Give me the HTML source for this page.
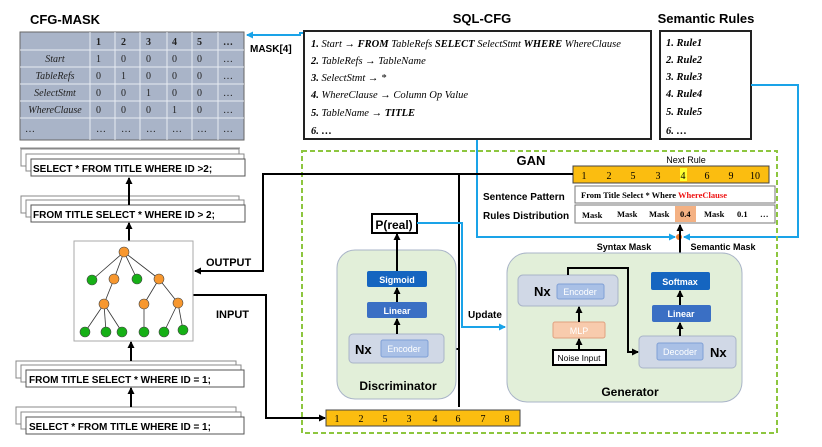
<!DOCTYPE html>
<html><head><meta charset="utf-8"><style>
body{margin:0;background:#fff}
</style></head><body>
<svg width="822" height="442" viewBox="0 0 822 442" xmlns="http://www.w3.org/2000/svg" font-family="Liberation Sans, sans-serif">
<defs>
<marker id="a" markerUnits="userSpaceOnUse" markerWidth="7" markerHeight="7" refX="6" refY="3.5" orient="auto"><path d="M0,0 L7,3.5 L0,7 z" fill="#000"/></marker>
<marker id="b" markerUnits="userSpaceOnUse" markerWidth="7" markerHeight="7" refX="6" refY="3.5" orient="auto"><path d="M0,0 L7,3.5 L0,7 z" fill="#1aa3e8"/></marker>
</defs>
<!-- CFG-MASK -->
<text x="65" y="24" font-size="13" font-weight="bold" text-anchor="middle">CFG-MASK</text>
<rect x="20" y="32" width="224" height="108" fill="#a9b4c8" stroke="#666"/>
<g stroke="#e8ecf2" stroke-width="1">
<line x1="20" y1="50" x2="244" y2="50"/><line x1="20" y1="67" x2="244" y2="67"/><line x1="20" y1="84" x2="244" y2="84"/><line x1="20" y1="101" x2="244" y2="101"/><line x1="20" y1="118" x2="244" y2="118"/>
<line x1="90" y1="32" x2="90" y2="140"/><line x1="115" y1="32" x2="115" y2="140"/><line x1="140" y1="32" x2="140" y2="140"/><line x1="167" y1="32" x2="167" y2="140"/><line x1="192" y1="32" x2="192" y2="140"/><line x1="218" y1="32" x2="218" y2="140"/>
</g>
<g font-size="10" font-family="Liberation Serif, serif" fill="#222">
<g font-weight="bold"><text x="96" y="45">1</text><text x="121" y="45">2</text><text x="146" y="45">3</text><text x="172" y="45">4</text><text x="197" y="45">5</text><text x="223" y="45">…</text></g>
<g font-style="italic" text-anchor="middle"><text x="55" y="62">Start</text><text x="55" y="79">TableRefs</text><text x="55" y="96">SelectStmt</text><text x="55" y="113">WhereClause</text></g>
<text x="25" y="132">…</text>
<text x="96" y="62">1</text><text x="121" y="62">0</text><text x="146" y="62">0</text><text x="172" y="62">0</text><text x="197" y="62">0</text><text x="223" y="62">…</text>
<text x="96" y="79">0</text><text x="121" y="79">1</text><text x="146" y="79">0</text><text x="172" y="79">0</text><text x="197" y="79">0</text><text x="223" y="79">…</text>
<text x="96" y="96">0</text><text x="121" y="96">0</text><text x="146" y="96">1</text><text x="172" y="96">0</text><text x="197" y="96">0</text><text x="223" y="96">…</text>
<text x="96" y="113">0</text><text x="121" y="113">0</text><text x="146" y="113">0</text><text x="172" y="113">1</text><text x="197" y="113">0</text><text x="223" y="113">…</text>
<text x="96" y="132">…</text><text x="121" y="132">…</text><text x="146" y="132">…</text><text x="172" y="132">…</text><text x="197" y="132">…</text><text x="223" y="132">…</text>
</g>
<line x1="20" y1="148" x2="240" y2="148" stroke="#888"/>
<polyline points="303,33 300,33 300,35 247,35" fill="none" stroke="#1aa3e8" stroke-width="2" marker-end="url(#b)"/>
<text x="250" y="52" font-size="10" font-weight="bold">MASK[4]</text>
<!-- SQL-CFG -->
<text x="482" y="23" font-size="13" font-weight="bold" text-anchor="middle">SQL-CFG</text>
<rect x="304" y="31" width="347" height="108" fill="#fff" stroke="#222" stroke-width="2"/>
<g font-family="Liberation Serif, serif" font-style="italic" font-size="10.5">
<text x="311" y="47"><tspan font-weight="bold">1.</tspan>  Start → <tspan font-weight="bold">FROM</tspan> TableRefs <tspan font-weight="bold">SELECT</tspan>  SelectStmt <tspan font-weight="bold">WHERE</tspan> WhereClause</text>
<text x="311" y="64"><tspan font-weight="bold">2.</tspan>  TableRefs → TableName</text>
<text x="311" y="81"><tspan font-weight="bold">3.</tspan>  SelectStmt → *</text>
<text x="311" y="98"><tspan font-weight="bold">4.</tspan>  WhereClause → Column Op Value</text>
<text x="311" y="116"><tspan font-weight="bold">5.</tspan>  TableName → <tspan font-weight="bold">TITLE</tspan></text>
<text x="311" y="134"><tspan font-weight="bold">6.  …</tspan></text>
</g>
<!-- Semantic Rules -->
<text x="706" y="23" font-size="13" font-weight="bold" text-anchor="middle">Semantic Rules</text>
<rect x="660" y="31" width="91" height="108" fill="#fff" stroke="#222" stroke-width="2"/>
<g font-family="Liberation Serif, serif" font-style="italic" font-weight="bold" font-size="10.5">
<text x="666" y="46">1.  Rule1</text><text x="666" y="63">2.  Rule2</text><text x="666" y="80">3.  Rule3</text><text x="666" y="97">4.  Rule4</text><text x="666" y="115">5.  Rule5</text><text x="666" y="134">6.  …</text>
</g>
<!-- blue lines -->
<polyline points="477,140 477,237 675,237" fill="none" stroke="#1aa3e8" stroke-width="2" marker-end="url(#b)"/>
<polyline points="751,85 798,85 798,237 684,237" fill="none" stroke="#1aa3e8" stroke-width="2" marker-end="url(#b)"/>
<!-- GAN box -->
<rect x="302" y="151" width="475" height="282" fill="none" stroke="#8dc63f" stroke-width="2" stroke-dasharray="5,3"/>
<text x="531" y="165" font-size="13" font-weight="bold" text-anchor="middle">GAN</text>
<text x="686" y="163" font-size="9" text-anchor="middle">Next Rule</text>
<rect x="573" y="166" width="196" height="17" fill="#fbbd10" stroke="#444"/>
<rect x="680" y="168" width="7" height="13" fill="#ffff30"/>
<g font-family="Liberation Serif, serif" font-size="10" text-anchor="middle">
<text x="584" y="179">1</text><text x="609" y="179">2</text><text x="633" y="179">5</text><text x="658" y="179">3</text><text x="683" y="179">4</text><text x="707" y="179">6</text><text x="731" y="179">9</text><text x="755" y="179">10</text>
</g>
<text x="483" y="200" font-size="10" font-weight="bold">Sentence Pattern</text>
<text x="483" y="219" font-size="10" font-weight="bold">Rules Distribution</text>
<rect x="575" y="186" width="200" height="17" fill="#fff" stroke="#777"/>
<rect x="575" y="205" width="200" height="18" fill="#fff" stroke="#777"/>
<rect x="675" y="206" width="21" height="16" fill="#f4b183"/>
<g font-family="Liberation Serif, serif" font-size="8.5" font-weight="bold">
<text x="581" y="198">From   Title   Select   *   Where   <tspan fill="#ee1111">WhereClause</tspan></text>
<text x="582" y="218">Mask</text><text x="617" y="217">Mask</text><text x="649" y="217">Mask</text><text x="680" y="217">0.4</text><text x="704" y="217">Mask</text><text x="737" y="217">0.1</text><text x="760" y="217">…</text>
</g>
<circle cx="679" cy="237" r="3" fill="#ed7d31"/>
<line x1="680" y1="272" x2="680" y2="225" stroke="#000" stroke-width="2" marker-end="url(#a)"/>
<text x="624" y="250" font-size="9" font-weight="bold" text-anchor="middle">Syntax Mask</text>
<text x="723" y="250" font-size="9" font-weight="bold" text-anchor="middle">Semantic Mask</text>
<!-- black lines -->
<polyline points="573,174 263,174 263,271 195,271" fill="none" stroke="#000" stroke-width="2" marker-end="url(#a)"/>
<line x1="459" y1="174" x2="459" y2="407" stroke="#000" stroke-width="2"/>
<line x1="459" y1="349" x2="445" y2="349" stroke="#000" stroke-width="2" marker-end="url(#a)"/>
<text x="206" y="266" font-size="11" font-weight="bold">OUTPUT</text>
<text x="216" y="318" font-size="11" font-weight="bold">INPUT</text>
<polyline points="193,295 266,295 266,418 325,418" fill="none" stroke="#000" stroke-width="2" marker-end="url(#a)"/>
<!-- bottom bar -->
<rect x="326" y="410" width="194" height="16" fill="#fbbd10" stroke="#444"/>
<g font-family="Liberation Serif, serif" font-size="10" text-anchor="middle">
<text x="337" y="422">1</text><text x="361" y="422">2</text><text x="385" y="422">5</text><text x="409" y="422">3</text><text x="435" y="422">4</text><text x="458" y="422">6</text><text x="483" y="422">7</text><text x="507" y="422">8</text>
</g>
<!-- Discriminator -->
<rect x="337" y="250" width="119" height="149" rx="18" fill="#e2efd9" stroke="#a9b4c8"/>
<rect x="372" y="214" width="45" height="19" fill="#fff" stroke="#000" stroke-width="2"/>
<text x="394" y="229" font-size="12" font-weight="bold" text-anchor="middle">P(real)</text>
<polyline points="417,223 462,223 462,327 505,327" fill="none" stroke="#1aa3e8" stroke-width="2" marker-end="url(#b)"/>
<text x="468" y="318" font-size="10" font-weight="bold">Update</text>
<rect x="367" y="271" width="60" height="16" rx="2" fill="#1565c0"/>
<text x="397" y="283" font-size="9" font-weight="bold" fill="#fff" text-anchor="middle">Sigmoid</text>
<rect x="367" y="302" width="60" height="16" rx="2" fill="#3a6fc4"/>
<text x="397" y="314" font-size="9" font-weight="bold" fill="#fff" text-anchor="middle">Linear</text>
<rect x="349" y="334" width="95" height="29" rx="4" fill="#d0d8e6" stroke="#a9b4c8"/>
<text x="355" y="354" font-size="13" font-weight="bold">Nx</text>
<rect x="381" y="340" width="47" height="17" rx="2" fill="#a9c0e6" stroke="#7f9fd6"/>
<text x="404" y="352" font-size="9" fill="#fff" text-anchor="middle">Encoder</text>
<line x1="397" y1="334" x2="397" y2="319" stroke="#000" stroke-width="2" marker-end="url(#a)"/>
<line x1="397" y1="302" x2="397" y2="288" stroke="#000" stroke-width="2" marker-end="url(#a)"/>
<line x1="397" y1="271" x2="397" y2="234" stroke="#000" stroke-width="2" marker-end="url(#a)"/>
<text x="398" y="390" font-size="12" font-weight="bold" text-anchor="middle">Discriminator</text>
<!-- Generator -->
<rect x="507" y="253" width="235" height="149" rx="20" fill="#e2efd9" stroke="#a9b4c8"/>
<rect x="518" y="275" width="100" height="31" rx="5" fill="#d0d8e6" stroke="#a9b4c8"/>
<text x="534" y="296" font-size="13" font-weight="bold">Nx</text>
<rect x="557" y="284" width="47" height="15" rx="2" fill="#a9c0e6" stroke="#7f9fd6"/>
<text x="580" y="295" font-size="9" fill="#fff" text-anchor="middle">Encoder</text>
<rect x="553" y="322" width="52" height="16" rx="2" fill="#f8cbad" stroke="#e0a080"/>
<text x="579" y="334" font-size="9" fill="#fff" text-anchor="middle">MLP</text>
<rect x="553" y="350" width="53" height="15" fill="#fff" stroke="#000" stroke-width="2"/>
<text x="579" y="361" font-size="8.5" text-anchor="middle">Noise Input</text>
<line x1="579" y1="350" x2="579" y2="339" stroke="#000" stroke-width="2" marker-end="url(#a)"/>
<line x1="579" y1="322" x2="579" y2="307" stroke="#000" stroke-width="2" marker-end="url(#a)"/>
<polyline points="568,275 568,268 628,268 628,352 638,352" fill="none" stroke="#000" stroke-width="2" marker-end="url(#a)"/>
<rect x="639" y="336" width="97" height="32" rx="4" fill="#d0d8e6" stroke="#a9b4c8"/>
<rect x="657" y="343" width="46" height="17" rx="2" fill="#a9c0e6" stroke="#7f9fd6"/>
<text x="680" y="355" font-size="9" fill="#fff" text-anchor="middle">Decoder</text>
<text x="710" y="357" font-size="13" font-weight="bold">Nx</text>
<rect x="651" y="272" width="59" height="18" rx="2" fill="#1565c0"/>
<text x="680" y="285" font-size="9" font-weight="bold" fill="#fff" text-anchor="middle">Softmax</text>
<rect x="652" y="305" width="59" height="17" rx="2" fill="#3a6fc4"/>
<text x="681" y="317" font-size="9" font-weight="bold" fill="#fff" text-anchor="middle">Linear</text>
<line x1="680" y1="336" x2="680" y2="323" stroke="#000" stroke-width="2" marker-end="url(#a)"/>
<line x1="680" y1="305" x2="680" y2="291" stroke="#000" stroke-width="2" marker-end="url(#a)"/>
<text x="630" y="396" font-size="12" font-weight="bold" text-anchor="middle">Generator</text>
<!-- left stacks -->
<g fill="#fff" stroke="#888">
<rect x="21" y="149" width="218" height="17"/><rect x="26" y="154" width="218" height="17"/><rect x="31" y="159" width="214" height="17" stroke="#555"/>
<rect x="21" y="196" width="218" height="17"/><rect x="26" y="200" width="218" height="17"/><rect x="31" y="205" width="214" height="17" stroke="#555"/>
<rect x="16" y="361" width="220" height="17"/><rect x="21" y="365" width="220" height="17"/><rect x="26" y="370" width="218" height="17" stroke="#555"/>
<rect x="16" y="407" width="220" height="17"/><rect x="21" y="412" width="220" height="17"/><rect x="26" y="417" width="218" height="17" stroke="#555"/>
</g>
<g font-size="10" font-weight="bold">
<text x="33" y="172">SELECT * FROM TITLE WHERE ID &gt;2;</text>
<text x="33" y="218">FROM TITLE SELECT * WHERE ID &gt; 2;</text>
<text x="29" y="383">FROM TITLE SELECT * WHERE ID = 1;</text>
<text x="29" y="430">SELECT * FROM TITLE WHERE ID = 1;</text>
</g>
<g stroke="#000" stroke-width="2">
<line x1="129" y1="205" x2="129" y2="178" marker-end="url(#a)"/>
<line x1="129" y1="241" x2="129" y2="223" marker-end="url(#a)"/>
<line x1="131" y1="361" x2="131" y2="342" marker-end="url(#a)"/>
<line x1="131" y1="407" x2="131" y2="388" marker-end="url(#a)"/>
</g>
<!-- tree -->
<rect x="74" y="241" width="119" height="100" fill="#fff" stroke="#aaa"/>
<g stroke="#333" stroke-width="0.8">
<line x1="124" y1="252" x2="92" y2="280"/><line x1="124" y1="252" x2="114" y2="279"/><line x1="124" y1="252" x2="137" y2="279"/><line x1="124" y1="252" x2="159" y2="279"/>
<line x1="114" y1="279" x2="104" y2="304"/><line x1="159" y1="279" x2="144" y2="304"/><line x1="159" y1="279" x2="178" y2="303"/>
<line x1="104" y1="304" x2="85" y2="332"/><line x1="104" y1="304" x2="106" y2="332"/><line x1="104" y1="304" x2="122" y2="332"/>
<line x1="144" y1="304" x2="144" y2="332"/><line x1="178" y1="303" x2="164" y2="332"/><line x1="178" y1="303" x2="183" y2="330"/>
</g>
<g stroke="#444" stroke-width="0.6">
<circle cx="124" cy="252" r="5" fill="#f7972e"/><circle cx="114" cy="279" r="5" fill="#f7972e"/><circle cx="159" cy="279" r="5" fill="#f7972e"/>
<circle cx="104" cy="304" r="5" fill="#f7972e"/><circle cx="144" cy="304" r="5" fill="#f7972e"/><circle cx="178" cy="303" r="5" fill="#f7972e"/>
<circle cx="92" cy="280" r="5" fill="#16b016"/><circle cx="137" cy="279" r="5" fill="#16b016"/>
<circle cx="85" cy="332" r="5" fill="#16b016"/><circle cx="106" cy="332" r="5" fill="#16b016"/><circle cx="122" cy="332" r="5" fill="#16b016"/><circle cx="144" cy="332" r="5" fill="#16b016"/><circle cx="164" cy="332" r="5" fill="#16b016"/><circle cx="183" cy="330" r="5" fill="#16b016"/>
</g>
</svg>
</body></html>
